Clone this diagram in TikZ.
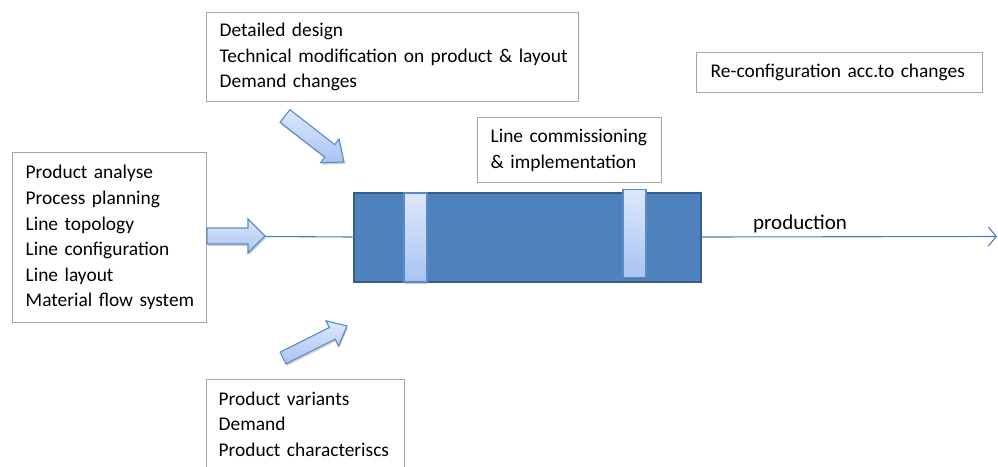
\documentclass[tikz,border=0pt]{standalone}
\usepackage{fontspec}
\setmainfont{Carlito}
\usetikzlibrary{arrows.meta,shadows}

\definecolor{boxgray}{HTML}{A6A6A6}
\definecolor{lineblue}{HTML}{4A7EBB}
\definecolor{mainblue}{HTML}{4F81BD}
\definecolor{mainedge}{HTML}{385D8A}
\definecolor{lightA}{HTML}{DDE7FA}
\definecolor{lightB}{HTML}{A8C4F3}
\definecolor{stripedge}{HTML}{5B8AC6}

\tikzset{
  txtbox/.style={draw=boxgray, line width=1.4pt, fill=white, align=left,
    inner xsep=13pt, font=\fontsize{19.4}{25.6}\selectfont},
  stripbox/.style={draw=stripedge, line width=1.2pt, top color=lightA, bottom color=lightB,
    minimum width=23pt, inner sep=0pt,
    drop shadow={shadow xshift=0.5pt, shadow yshift=-2pt, opacity=0.35, fill=black!60}},
  blockarrow/.style={draw=stripedge, line width=1.1pt, top color=lightA, bottom color=lightB,
    line join=miter,
    drop shadow={shadow xshift=1pt, shadow yshift=-2pt, opacity=0.3, fill=black!60}},
  flow/.style={draw=lineblue, line width=1.1pt},
}

% block arrow: #1 tail mid, #2 angle, #3 length, #4 body half width, #5 head half width, #6 head length
\newcommand\blockarr[6]{%
  \begin{scope}[shift={#1}, rotate=#2]
    \path[blockarrow] (0,-#4) -- ({#3-#6},-#4) -- ({#3-#6},-#5) -- (#3,0)
      -- ({#3-#6},#5) -- ({#3-#6},#4) -- (0,#4) -- cycle;
  \end{scope}}

\begin{document}
\begin{tikzpicture}[x=1pt,y=-1pt]
\useasboundingbox (0,0) rectangle (998,466);
\clip (0,0) rectangle (998,466);

% planning inputs on the left
\node[txtbox, anchor=north west, text width=168pt, minimum height=170pt] (plan) at (12,152)
  {\mbox{Product analyse}\\\mbox{Process planning}\\\mbox{Line topology}\\\mbox{Line configuration}\\\mbox{Line layout}\\\mbox{Material flow system}};

% design changes at the top
\node[txtbox, anchor=north west, text width=346pt, minimum height=89pt] (design) at (206,12)
  {Detailed design\\\mbox{Technical modification on product \& layout}\\Demand changes};

% product data at the bottom
\node[txtbox, anchor=north west, text width=174pt, inner ysep=12pt, inner xsep=12pt] (product) at (206,379)
  {Product variants\\Demand\\\mbox{Product characteriscs}\\ \strut};

% commissioning note
\node[txtbox, anchor=north west, text width=158pt, minimum height=65pt] (comm) at (477,117)
  {\mbox{Line commissioning}\\\& implementation};

% re-configuration note
\node[txtbox, anchor=north west, inner xsep=14pt, text width=258pt, minimum height=40pt, inner ysep=0pt] (reconf) at (696,52)
  {\mbox{Re-configuration acc.to changes}};

% production line
\node[draw=mainedge, fill=mainblue, line width=2pt, minimum width=347pt, minimum height=89pt, inner sep=0pt]
  (line) at (527,237) {};
\node[stripbox, minimum height=89pt] (stripA) at (415.5,237.5) {};
\node[stripbox, minimum height=88pt] (stripB) at (634.5,233.3) {};

% input arrows
\blockarr{(207,236)}{0}{58}{8}{17}{17}
\blockarr{(285,116)}{-37.9}{74.8}{8}{15}{18}
\blockarr{(283,358)}{26.6}{71.6}{6.5}{14}{16.5}

% flow line through the production line
\coordinate (inlet) at (265,236.5);
\coordinate (outlet) at (997,236.5);
\draw[flow] (inlet) -- (line.west);
\draw[flow, -{Straight Barb[length=8pt,width=19pt,line width=1.1pt]}] (line.east) -- (outlet);
\node[anchor=base west, inner sep=0pt, font=\fontsize{21}{26}\selectfont] (prod) at (753,229) {production};
\end{tikzpicture}
\end{document}
